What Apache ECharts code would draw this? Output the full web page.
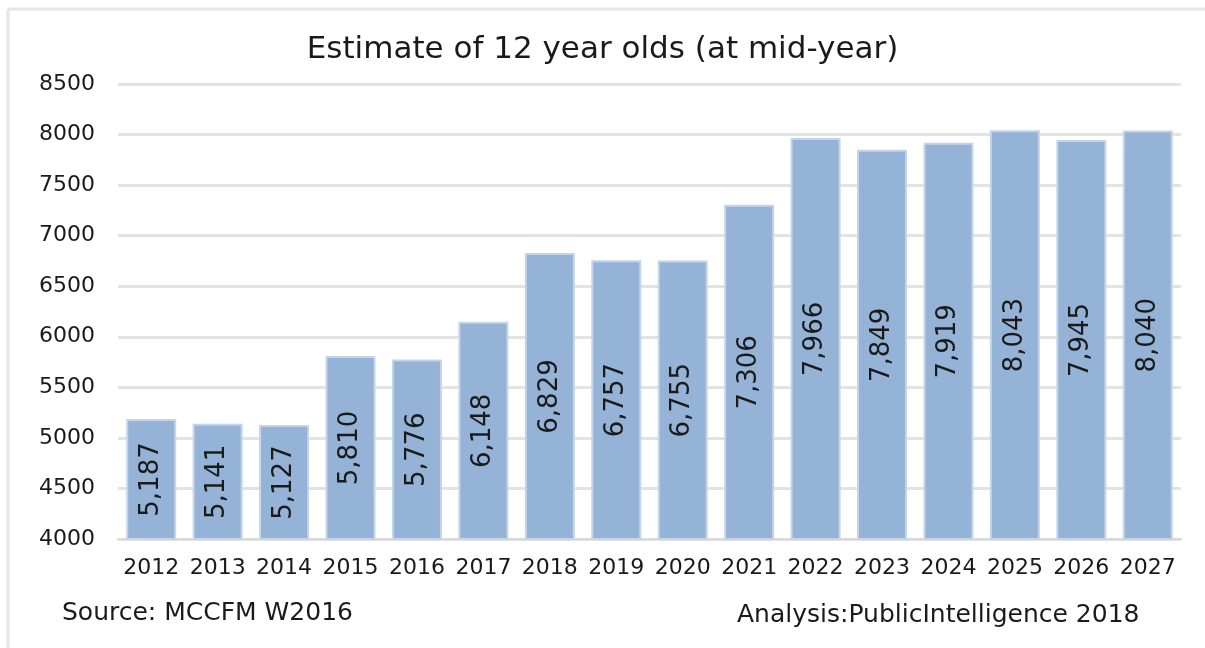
<!DOCTYPE html>
<html>
<head>
<meta charset="utf-8">
<script src="https://cdn.jsdelivr.net/npm/echarts@6/dist/echarts.min.js"></script>
<style>
  html, body { margin: 0; padding: 0; background: #fff; }
  #chart { width: 1205px; height: 648px; }
</style>
</head>
<body>
<div id="chart"></div>
<script>
const years = ['2012', '2013', '2014', '2015', '2016', '2017', '2018', '2019',
  '2020', '2021', '2022', '2023', '2024', '2025', '2026', '2027']
const estimates = [5187, 5141, 5127, 5810, 5776, 6148, 6829, 6757,
  6755, 7306, 7966, 7849, 7919, 8043, 7945, 8040]
const titleText = 'Estimate of 12 year olds (at mid-year)'
const sourceText = 'Source: MCCFM W2016'
const analysisText = 'Analysis:PublicIntelligence 2018'

const font = 'DejaVu Sans'
const chart = echarts.init(document.getElementById('chart'))

const option = {
  animation: false,
  backgroundColor: '#fff',
  title: [
    {
      text: titleText,
      left: 'center',
      top: 29,
      textStyle: {fontFamily: font, fontSize: 31, fontWeight: 'normal', color: '#1a1a1a'}
    },
    {
      text: sourceText,
      left: 57,
      top: 596,
      textStyle: {fontFamily: font, fontSize: 25, fontWeight: 'normal', color: '#1a1a1a'}
    },
    {
      text: analysisText,
      left: 732,
      top: 598,
      textStyle: {fontFamily: font, fontSize: 25, fontWeight: 'normal', color: '#1a1a1a'}
    }
  ],
  grid: {left: 118, right: 24, top: 84, bottom: 109},
  xAxis: {
    type: 'category',
    data: years,
    axisTick: {show: false},
    axisLine: {lineStyle: {color: '#d9d9d9', width: 2}},
    axisLabel: {
      interval: 0,
      margin: 18,
      fontFamily: font,
      fontSize: 22,
      color: '#1a1a1a'
    }
  },
  yAxis: {
    type: 'value',
    min: 4000,
    max: 8500,
    interval: 500,
    axisLine: {show: false},
    axisTick: {show: false},
    axisLabel: {
      margin: 23,
      fontFamily: font,
      fontSize: 22,
      color: '#1a1a1a',
      formatter: v => String(v)
    },
    splitLine: {lineStyle: {color: '#e3e3e3', width: 3}}
  },
  series: [{
    type: 'bar',
    data: estimates,
    barWidth: 50,
    itemStyle: {color: '#95b3d7', borderColor: '#c4d4e9', borderWidth: 2},
    label: {
      show: true,
      position: 'inside',
      rotate: 90,
      fontFamily: font,
      fontSize: 26,
      color: '#1a1a1a',
      formatter: p => p.value.toLocaleString('en-US')
    }
  }],
  graphic: [
    {type: 'line', shape: {x1: 8, y1: 9, x2: 1205, y2: 9}, style: {stroke: '#e6e6e6', lineWidth: 3}},
    {type: 'line', shape: {x1: 8, y1: 9, x2: 8, y2: 648}, style: {stroke: '#e6e6e6', lineWidth: 3}}
  ]
}

chart.setOption(option)
</script>
</body>
</html>
